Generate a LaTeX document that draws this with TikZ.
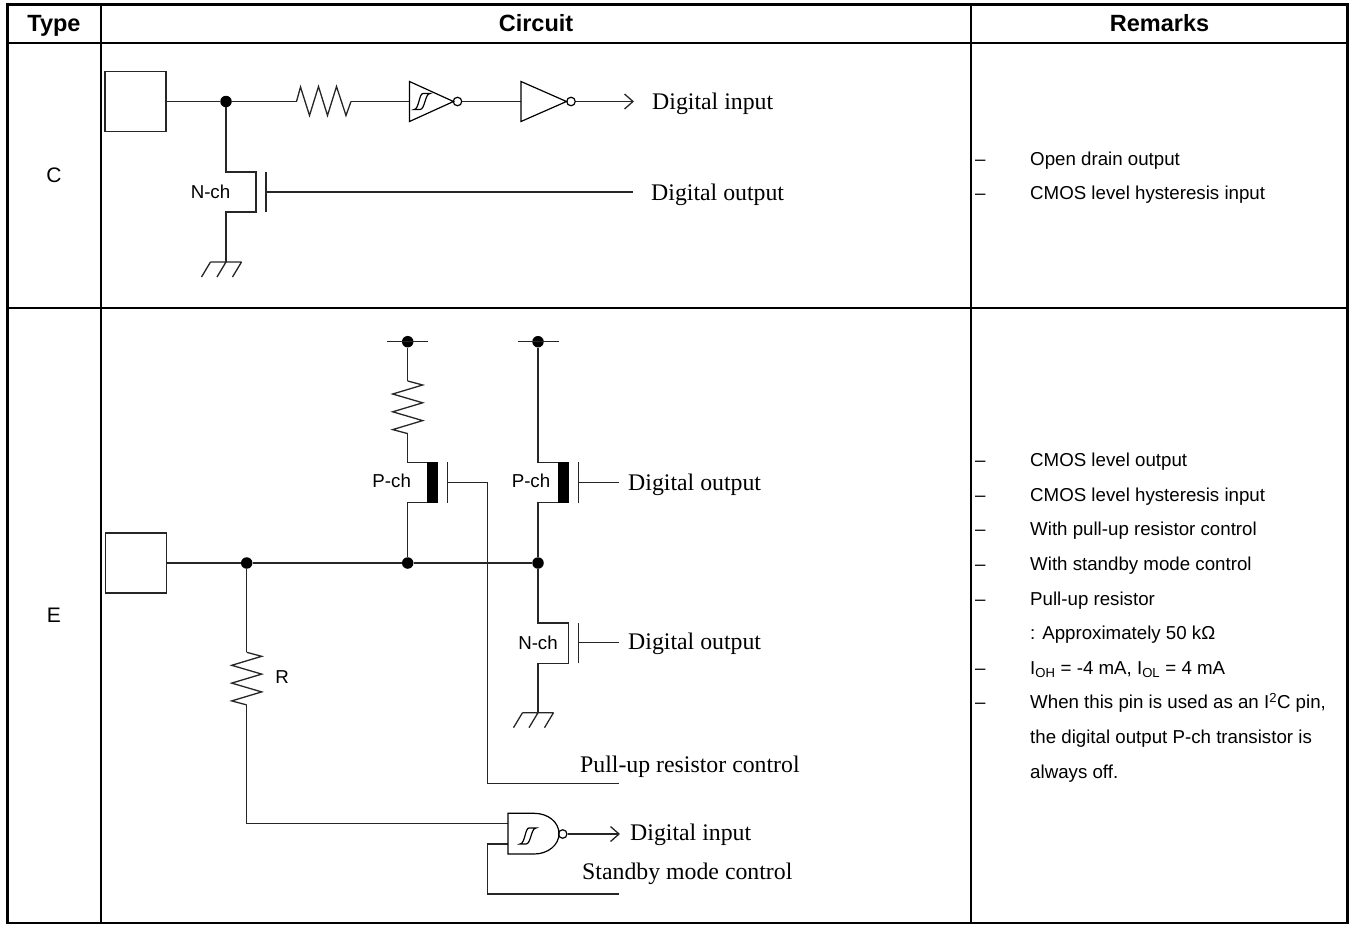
\documentclass[tikz,border=0pt]{standalone}
\usepackage{fontspec}
\setmainfont{Liberation Sans}
\newfontfamily\serifface{Liberation Serif}
\usetikzlibrary{arrows.meta}
\tikzset{
    wire/.style={line width=1.3pt, black!85},
    gate/.style={line width=1.2pt},
    rule/.style={line width=2pt},
    dot/.style={circle, fill=black, inner sep=0pt, minimum size=11.5pt},
    bubble/.style={circle, draw, line width=1.2pt, fill=white, inner sep=0pt, minimum size=8.5pt},
    pad/.style={draw, line width=1.3pt, black!85, minimum width=61pt, minimum height=60pt, inner sep=0pt},
    head/.style={font=\fontsize{23.5}{25}\selectfont\bfseries, inner sep=0pt, anchor=base},
    small/.style={font=\fontsize{18.7}{20}\selectfont, inner sep=0pt},
    remark/.style={small, anchor=base west},
    signal/.style={font=\fontsize{23.8}{26}\selectfont\serifface, inner sep=0pt, anchor=west},
    pin/.style={-{Straight Barb[length=8.5pt,width=15pt]}}
}
% symbols, the coordinate is where the symbol starts or its centre
\newcommand{\hresistor}[1]{\draw[wire] (#1) -- ++(4,-14.5) -- ++(9,28.5) -- ++(9,-29) -- ++(9,29) -- ++(9,-29) -- ++(9.5,29) -- ++(5,-14);}
\newcommand{\vresistor}[1]{\draw[wire] (#1) -- ++(15,4) -- ++(-30,9) -- ++(30,8.8) -- ++(-30,9) -- ++(30,8.8) -- ++(-30,9) -- ++(15,4);}
\newcommand{\earth}[1]{\draw[wire] (#1) ++(-15.5,0) -- ++(31,0) (#1) ++(-15.5,0) -- ++(-9,15) (#1) -- ++(-9,15) (#1) ++(15.5,0) -- ++(-9,15);}
\newcommand{\hysteresis}[1]{\begin{scope}[shift={(#1)}]
    \draw[gate] (-8,8) .. controls (-3,8) and (-3,-8) .. (1,-8) -- (8,-8) .. controls (3,-8) and (3,8) .. (-2,8) -- cycle;
    \end{scope}}

\begin{document}
\begin{tikzpicture}[x=1pt,y=-1pt]
    \useasboundingbox (0,0) rectangle (1349,924);

    % table
    \draw[line width=2.6pt] (7.5,4.3) -- (1347.5,4.3);
    \draw[line width=3pt] (7.5,3) -- (7.5,924);
    \draw[line width=2.6pt] (1347.4,3) -- (1347.4,924);
    \draw[rule] (7.5,923) -- (1347.5,923);
    \draw[rule] (7.5,42.5) -- (1347.5,42.5);
    \draw[rule] (7.5,307.7) -- (1347.5,307.7);
    \draw[rule] (101,4) -- (101,923);
    \draw[rule] (970.7,4) -- (970.7,923);
    \node[head] (typehead) at (54,31) {Type};
    \node[head] (circuithead) at (536,31) {Circuit};
    \node[head] (remarkhead) at (1159.5,31) {Remarks};
    \node[font=\fontsize{21}{24}\selectfont, inner sep=0pt] (typec) at (54,175) {C};
    \node[font=\fontsize{21}{24}\selectfont, inner sep=0pt] (typee) at (54,615) {E};

    % type C
    \node[pad] (padc) at (135.5,101.5) {};
    \node[dot] (jc) at (226,101.5) {};
    \coordinate (rcin) at (296.5,101.5);
    \coordinate (rcout) at (350.5,101.5);
    \coordinate (stc) at (409.5,101.5);
    \node[bubble] (bstc) at (457.5,101.5) {};
    \coordinate (ivc) at (521,101.5);
    \node[bubble] (bivc) at (571,101.5) {};
    \coordinate (inc) at (634,101.5);
    \coordinate (mdc) at (226,172);
    \coordinate (msc) at (226,212);
    \coordinate (gndc) at (226,262);
    \coordinate (gtc) at (266,192);
    \coordinate (outc) at (633,192);
    \draw[wire] (padc.east) -- (jc) -- (rcin);
    \hresistor{rcin}
    \draw[wire] (rcout) -- (stc);
    \draw[gate] (stc) ++(0,-20) -- ++(44,20) -- ++(-44,20) -- cycle;
    \hysteresis{422,101.5}
    \draw[wire] (bstc) -- (ivc);
    \draw[gate] (ivc) ++(0,-20) -- ++(45.5,20) -- ++(-45.5,20) -- cycle;
    \draw[wire,pin] (bivc) -- (inc);
    \draw[wire] (jc) -- (mdc) -- ++(30,0) -- ++(0,40) -- (msc) -- (gndc);
    \earth{gndc}
    \draw[wire] (266,172) -- (266,212);
    \draw[wire] (gtc) -- (outc);
    \node[small] (nchc) at (210.5,192) {N-ch};
    \node[signal] (labinc) at (652,103.5) {Digital input};
    \node[signal] (laboutc) at (651,194.5) {Digital output};

    % type E
    \node[pad] (pade) at (136,563) {};
    \node[dot] (je) at (246.7,563) {};
    \node[dot] (jp) at (407.7,563) {};
    \node[dot] (jo) at (538,563) {};
    \node[dot] (vp) at (407.7,341.7) {};
    \node[dot] (vo) at (538,341.7) {};
    \draw[wire] (pade.east) -- (je) -- (jp) -- (jo);
    \draw[wire] (387.3,341.7) -- (428,341.7);
    \draw[wire] (517.7,341.7) -- (558.7,341.7);

    % pull-up branch
    \coordinate (rpin) at (407.7,381);
    \coordinate (rpout) at (407.7,433.4);
    \coordinate (gtp) at (447.7,482.7);
    \coordinate (pcl) at (487.7,783.7);
    \coordinate (pcr) at (618.7,783.7);
    \draw[wire] (vp) -- (rpin);
    \vresistor{rpin}
    \draw[wire] (rpout) -- (407.7,462.3) -- (432,462.3);
    \draw[wire] (432,502.7) -- (407.7,502.7) -- (jp);
    \fill (427.3,462) rectangle (438.3,503);
    \draw[wire] (447.7,462.3) -- (447.7,502.7);
    \draw[wire] (gtp) -- (pcl |- gtp) -- (pcl) -- (pcr);
    \node[small] (pchp) at (391.7,481) {P-ch};
    \node[signal] (labpc) at (580,766.5) {Pull-up resistor control};

    % output P-ch
    \coordinate (gto) at (578.3,482.7);
    \coordinate (outp) at (618.7,482.7);
    \draw[wire] (vo) -- (538,462.3) -- (562,462.3);
    \draw[wire] (562,502.7) -- (538,502.7) -- (jo);
    \fill (558.3,462) rectangle (569.3,503);
    \draw[wire] (578.3,462.3) -- (578.3,502.7);
    \draw[wire] (gto) -- (outp);
    \node[small] (pcho) at (531,481) {P-ch};
    \node[signal] (labout1) at (628,484.5) {Digital output};

    % output N-ch
    \coordinate (gtn) at (578.3,642.7);
    \coordinate (outn) at (618.7,642.7);
    \coordinate (gnde) at (538,712.7);
    \draw[wire] (jo) -- (538,623) -- (568.3,623) -- (568.3,663.3) -- (538,663.3) -- (gnde);
    \draw[wire] (578.3,623) -- (578.3,663.3);
    \draw[wire] (gtn) -- (outn);
    \earth{gnde}
    \node[small] (nche) at (538,642.7) {N-ch};
    \node[signal] (labout2) at (628,643.5) {Digital output};

    % input branch
    \coordinate (rein) at (246.7,652.3);
    \coordinate (reout) at (246.7,705);
    \coordinate (ga) at (508,823.3);
    \coordinate (gb) at (508,844);
    \coordinate (sbl) at (487.7,894);
    \coordinate (sbr) at (618.7,894);
    \coordinate (ine) at (620,834);
    \node[bubble] (bnd) at (562.7,834) {};
    \draw[wire] (je) -- (rein);
    \vresistor{rein}
    \draw[wire] (reout) -- (246.7,823.3) -- (ga);
    \draw[wire] (gb) -- (sbl |- gb) -- (sbl) -- (sbr);
    \draw[gate] (508,813.3) -- (534,813.3) .. controls (548,813.3) and (559,822) .. (559,833.7) .. controls (559,845) and (548,854) .. (534,854) -- (508,854) -- cycle;
    \hysteresis{528,836}
    \draw[wire,pin] (bnd) -- (ine);
    \node[small] (labr) at (282,677) {R};
    \node[signal] (labine) at (630,834.5) {Digital input};
    \node[signal] (labsb) at (582,873.5) {Standby mode control};

    % remarks
    \node[remark] (dc1) at (975,165) {–};
    \node[remark] (dc2) at (975,199.5) {–};
    \node[remark] (rc1) at (1030,165) {Open drain output};
    \node[remark] (rc2) at (1030,199.5) {CMOS level hysteresis input};
    \node[remark] (de1) at (975,466.5) {–};
    \node[remark] (de2) at (975,501) {–};
    \node[remark] (de3) at (975,535.7) {–};
    \node[remark] (de4) at (975,570.3) {–};
    \node[remark] (de5) at (975,605) {–};
    \node[remark] (de6) at (975,674.2) {–};
    \node[remark] (de7) at (975,708.8) {–};
    \node[remark] (re1) at (1030,466.5) {CMOS level output};
    \node[remark] (re2) at (1030,501) {CMOS level hysteresis input};
    \node[remark] (re3) at (1030,535.7) {With pull-up resistor control};
    \node[remark] (re4) at (1030,570.3) {With standby mode control};
    \node[remark] (re5) at (1030,605) {Pull-up resistor};
    \node[remark] (re6) at (1030,639.5) {: Approximately 50 kΩ};
    \node[remark] (re7) at (1030,674.2) {I\textsubscript{OH} = -4 mA, I\textsubscript{OL} = 4 mA};
    \node[remark] (re8) at (1030,708.8) {When this pin is used as an I\textsuperscript{2}C pin,};
    \node[remark] (re9) at (1030,743.4) {the digital output P-ch transistor is};
    \node[remark] (re10) at (1030,778) {always off.};
\end{tikzpicture}
\end{document}
